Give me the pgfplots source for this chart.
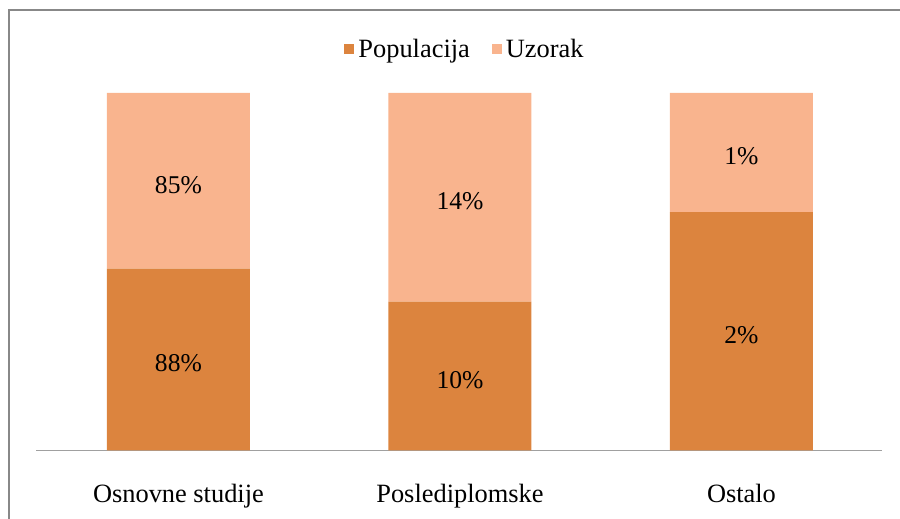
\documentclass[border=0pt]{standalone}
\usepackage{fontspec}
\setmainfont{Liberation Serif}
\usepackage{pgfplots}
\pgfplotsset{compat=1.18}
\definecolor{popc}{HTML}{DC843E}
\definecolor{uzc}{HTML}{F9B48E}
\definecolor{framec}{HTML}{888888}
\definecolor{basec}{HTML}{A0A0A0}
\begin{document}
\begin{tikzpicture}
\path[use as bounding box] (0,0) rectangle (450pt,259.5pt);
\draw[framec, line width=1pt] (4.5pt,-1pt) -- (4.5pt,254.3pt) -- (451pt,254.3pt);
\begin{axis}[
  at={(18.15pt,34.25pt)}, anchor=south west,
  scale only axis, width=422.96pt, height=178.75pt,
  xmin=-0.505, xmax=2.5, ymin=0, ymax=1,
  ybar stacked, bar width=0.508,
  axis x line=bottom, axis y line=none,
  x axis line style={draw=basec, line width=0.6pt, -},
  xtick={0,1,2}, xticklabels={Osnovne studije, Poslediplomske, Ostalo},
  xtick style={draw=none},
  xticklabel style={anchor=base, yshift=-23.75pt, font=\fontsize{13.2}{15}\selectfont},
  ytick=\empty,
  legend style={at={(0.508,1.122)}, anchor=center, draw=none, fill=none,
    legend columns=2, font=\fontsize{13.2}{15}\selectfont,
    /tikz/every even column/.append style={column sep=9pt}},
  legend image code/.code={\fill[#1] (0pt,-2.5pt) rectangle (5pt,2.5pt);},
]
\addplot[fill=popc, draw=none] coordinates {(0,0.5087) (1,0.4167) (2,0.6667)};
\addlegendentry{Populacija}
\addplot[fill=uzc, draw=none] coordinates {(0,0.4913) (1,0.5833) (2,0.3333)};
\addlegendentry{Uzorak}
\end{axis}
\begin{axis}[
  at={(18.15pt,34.25pt)}, anchor=south west,
  scale only axis, width=422.96pt, height=178.75pt,
  xmin=-0.505, xmax=2.5, ymin=0, ymax=1,
  hide axis,
]
\addplot[draw=none, only marks, mark=*, mark size=0pt,
  mark options={draw=none, fill=none, line width=0pt},
  point meta=explicit symbolic, nodes near coords,
  every node near coord/.style={anchor=center, inner sep=0pt, font=\fontsize{12.8}{15}\selectfont, text=black}]
  coordinates {
  (0,0.2430) [88\%]
  (0,0.7430) [85\%]
  (1,0.1970) [10\%]
  (1,0.6970) [14\%]
  (2,0.3220) [2\%]
  (2,0.8220) [1\%]
};
\end{axis}
\end{tikzpicture}
\end{document}
